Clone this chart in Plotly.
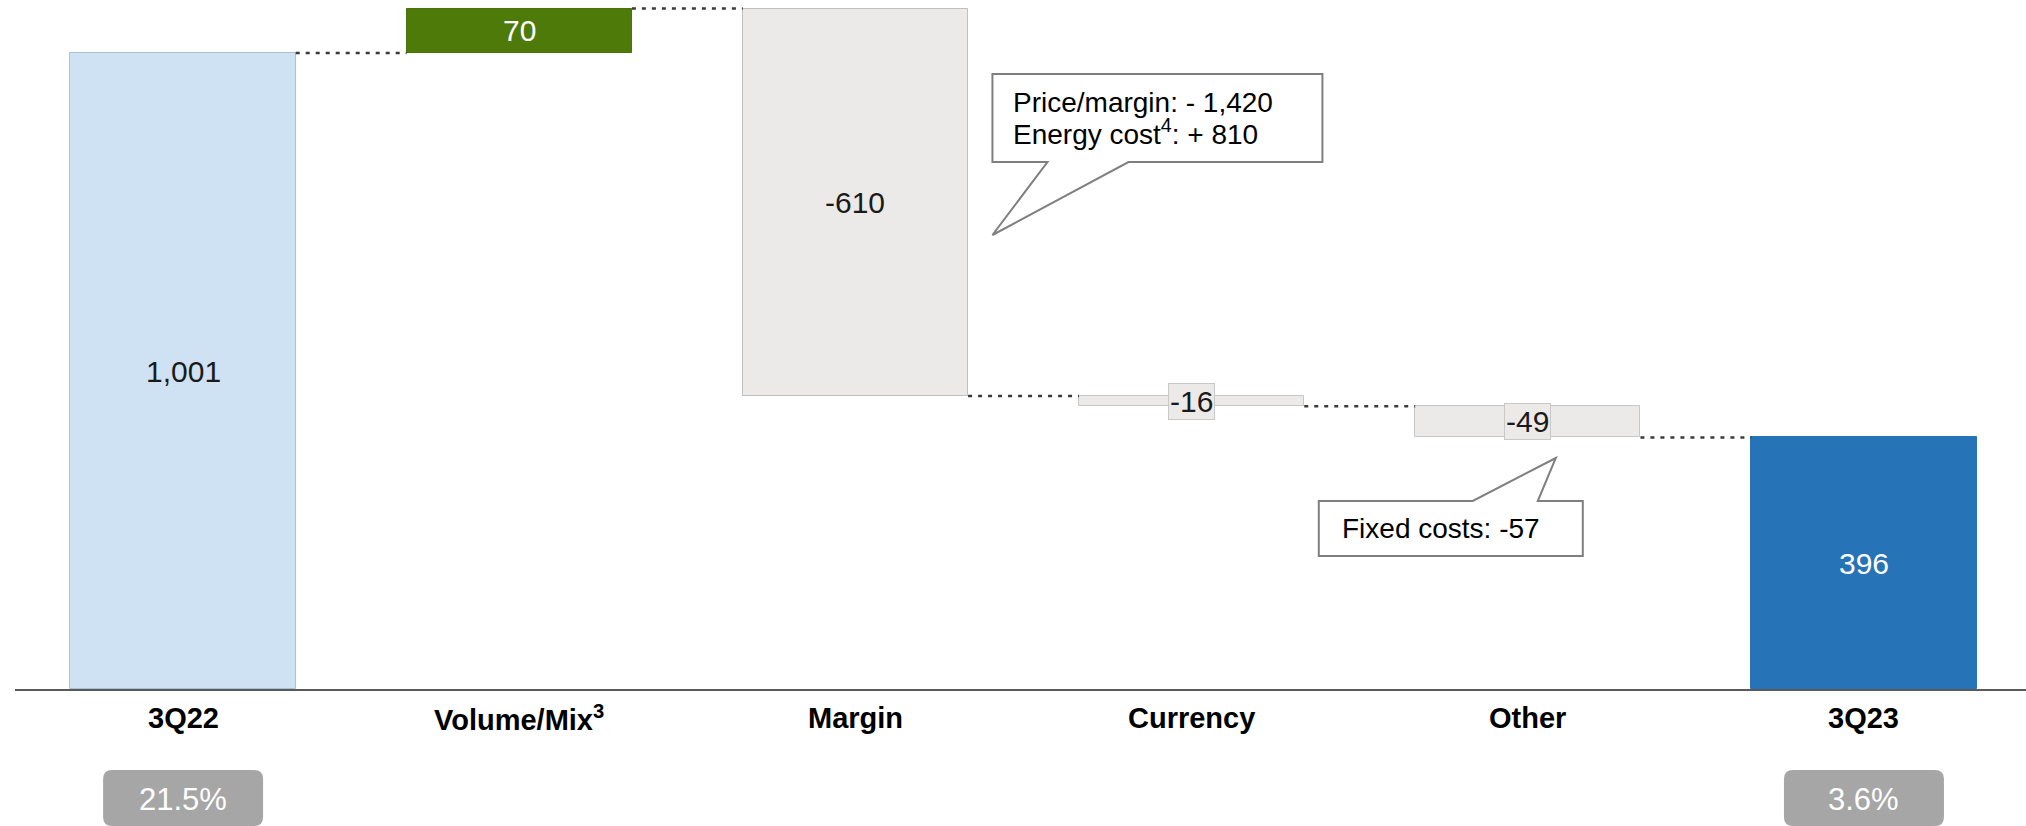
import plotly.graph_objects as go

# ---------------- data ----------------
categories = ["3Q22", "Volume/Mix<sup>3</sup>", "Margin", "Currency", "Other", "3Q23"]
values = [1001, 70, -610, -16, -49, 396]
measures = ["total", "relative", "relative", "relative", "relative", "total"]
margin_pct = ["21.5%", "", "", "", "", "3.6%"]
callout_margin = ["Price/margin: - 1,420", "Energy cost<sup>4</sup>: + 810"]
callout_other = ["Fixed costs: -57"]

# ---------------- styles ----------------
FONT = "Arial, Liberation Sans, sans-serif"
bar_colors = ["#cfe2f3", "#4e7a0a", "#ebeae8", "#ebeae8", "#ebeae8", "#2673b8"]
line_colors = ["#a9c0d6", "#4a730a", "#bfbfbf", "#c6c6c6", "#c6c6c6", "#2673b8"]
text_colors = ["#1a1a1a", "#ffffff", "#1a1a1a", "#1a1a1a", "#1a1a1a", "#ffffff"]
BAR_W = 0.67

# ---------------- waterfall geometry from data ----------------
xs = list(range(len(categories)))
bases, heights, levels = [], [], []
running = 0
for v, m in zip(values, measures):
    if m == "total":
        bases.append(0)
        heights.append(v)
        running = v
    else:
        new = running + v
        bases.append(min(running, new))
        heights.append(abs(v))
        running = new
    levels.append(running)

fig = go.Figure()
fig.add_trace(go.Bar(
    x=xs, y=heights, base=bases, width=BAR_W,
    marker=dict(color=bar_colors, line=dict(color=line_colors, width=1)),
    hoverinfo="skip", showlegend=False,
))

# dotted connectors
for i in range(len(xs) - 1):
    fig.add_trace(go.Scatter(
        x=[xs[i] + BAR_W / 2, xs[i + 1] - BAR_W / 2],
        y=[levels[i], levels[i]],
        mode="lines",
        line=dict(color="#3a3a3a", width=2.5, dash="4px,6px"),
        hoverinfo="skip", showlegend=False,
    ))

annotations = []
# value labels
for i, v in enumerate(values):
    mid = bases[i] + heights[i] / 2
    small = heights[i] < 60
    ann = dict(
        x=xs[i], y=mid, xref="x", yref="y", text=f"{v:,}",
        showarrow=False, xanchor="center", yanchor="middle",
        font=dict(family=FONT, size=30, color=text_colors[i]),
    )
    if small:
        ann.update(bgcolor="#ebeae8", bordercolor="#c8c8c8", borderwidth=1, borderpad=1)
    annotations.append(ann)

# category labels
for i, c in enumerate(categories):
    annotations.append(dict(
        x=xs[i], y=0, xref="x", yref="paper", text=c, showarrow=False,
        xanchor="center", yanchor="middle", yshift=-29,
        font=dict(family=FONT, size=29, color="#000000", weight="bold"),
    ))

shapes = []
# margin percentage boxes
R = 9
for i, p in enumerate(margin_pct):
    if not p:
        continue
    x0, x1, yt, yb = -80, 80, -81, -137
    path = (f"M {x0+R},{yt} L {x1-R},{yt} Q {x1},{yt} {x1},{yt-R} "
            f"L {x1},{yb+R} Q {x1},{yb} {x1-R},{yb} L {x0+R},{yb} "
            f"Q {x0},{yb} {x0},{yb+R} L {x0},{yt-R} Q {x0},{yt} {x0+R},{yt} Z")
    shapes.append(dict(type="path", path=path, xref="x", yref="paper",
                       xsizemode="pixel", ysizemode="pixel", xanchor=xs[i], yanchor=0,
                       fillcolor="#a6a6a6", line=dict(width=0), layer="above"))
    annotations.append(dict(
        x=xs[i], y=0, xref="x", yref="paper", text=p, showarrow=False,
        xanchor="center", yanchor="middle", yshift=-110,
        font=dict(family=FONT, size=31, color="#ffffff"),
    ))

# callout for Margin (pointer on bottom edge)
bx0, bx1, by0, by1 = 137, 467, 527, 615
tipx, tipy, b1, b2 = 137, 454, 192, 273
path1 = (f"M {bx0},{by1} L {bx1},{by1} L {bx1},{by0} L {b2},{by0} "
         f"L {tipx},{tipy} L {b1},{by0} L {bx0},{by0} Z")
shapes.append(dict(type="path", path=path1, xref="x", yref="paper",
                   xsizemode="pixel", ysizemode="pixel", xanchor=2, yanchor=0,
                   fillcolor="#ffffff", line=dict(color="#7f7f7f", width=2), layer="above"))
for k, line in enumerate(callout_margin):
    annotations.append(dict(
        x=2, y=0, xref="x", yref="paper", text=line, showarrow=False,
        xanchor="left", yanchor="middle", xshift=156, yshift=587 - 30 * k,
        font=dict(family=FONT, size=28, color="#000000"),
    ))

# callout for Other (pointer on top edge)
cx0, cx1, cy0, cy1 = -209, 55, 133, 188
ctx, cty, c1, c2 = 28, 231, -55, 10
path2 = (f"M {cx0},{cy1} L {c1},{cy1} L {ctx},{cty} L {c2},{cy1} L {cx1},{cy1} "
         f"L {cx1},{cy0} L {cx0},{cy0} Z")
shapes.append(dict(type="path", path=path2, xref="x", yref="paper",
                   xsizemode="pixel", ysizemode="pixel", xanchor=4, yanchor=0,
                   fillcolor="#ffffff", line=dict(color="#7f7f7f", width=2), layer="above"))
annotations.append(dict(
    x=4, y=0, xref="x", yref="paper", text=callout_other[0], showarrow=False,
    xanchor="left", yanchor="middle", xshift=-188, yshift=161,
    font=dict(family=FONT, size=28, color="#000000"),
))

fig.update_layout(
    width=2026, height=826,
    margin=dict(l=15, r=0, t=0, b=137),
    paper_bgcolor="#ffffff", plot_bgcolor="#ffffff",
    showlegend=False, bargap=0,
    xaxis=dict(range=[-0.5, 5.482], showticklabels=False, showgrid=False, zeroline=False,
               showline=True, linecolor="#5a5a5a", linewidth=2, ticks="", fixedrange=True),
    yaxis=dict(range=[0, 1084.4], showticklabels=False, showgrid=False, zeroline=False,
               showline=False, ticks="", fixedrange=True),
    annotations=annotations, shapes=shapes,
    font=dict(family=FONT),
)

fig.write_html("out.html", config={"displayModeBar": False})
